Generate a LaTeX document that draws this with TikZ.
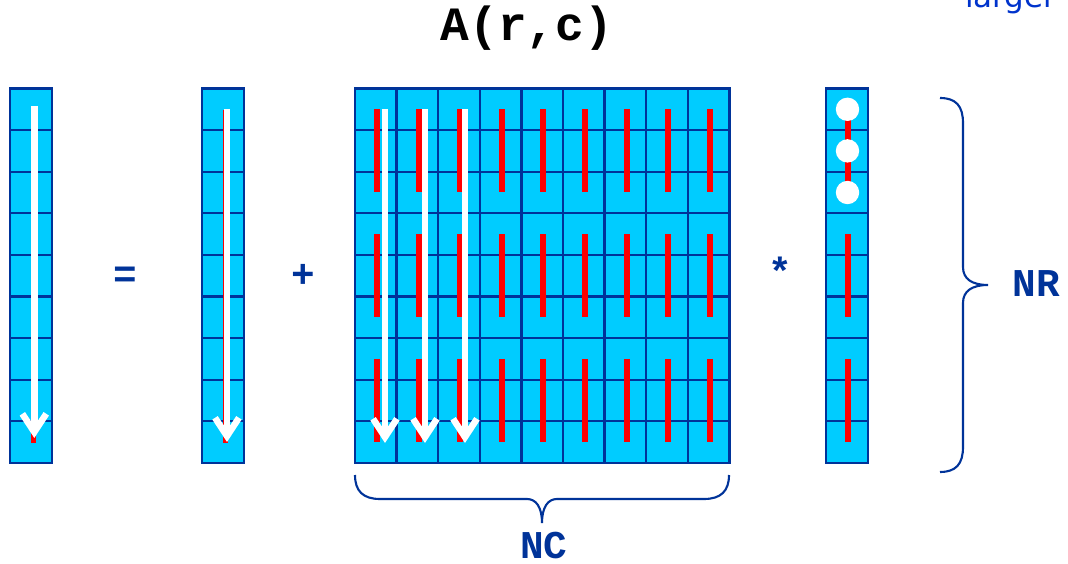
\documentclass[tikz,border=0pt]{standalone}
\usepackage{fontspec}
\setmonofont{Liberation Mono}
\newfontfamily\notefont{DejaVu Sans}
\usetikzlibrary{arrows.meta,calc}
\definecolor{cellblue}{RGB}{0,204,255}
\definecolor{gridblue}{RGB}{0,51,153}
\definecolor{noteblue}{RGB}{0,51,204}
\tikzset{every picture/.style={line width=0.75pt}}
\tikzset{
  cell/.style={fill=cellblue, draw=gridblue, line width=1.7pt},
  gridline/.style={gridblue, line width=1.7pt},
  redbar/.style={red, line width=4.2pt},
  sweep/.style={white, line width=4.6pt, -{Straight Barb[length=13pt, width=17pt]}},
  curly/.style={gridblue, line width=1.5pt},
  symb/.style={text=gridblue, inner sep=0pt, font=\ttfamily\bfseries\fontsize{28}{28}\selectfont},
}

\begin{document}
\begin{tikzpicture}[x=0.025cm, y=-0.025cm]
    \useasboundingbox (0,0) rectangle (1068,564);
    \clip (0,0) rectangle (1068,564);
    \def\rowh{41.6}
    \def\gridtop{88.5}
    \def\gridbot{462.9}

    % 标题
    \node[font=\ttfamily\bfseries\fontsize{34}{34}\selectfont] (title) at (527,28) {A(r,c)};
    \node[text=noteblue, font=\notefont\fontsize{22}{22}\selectfont, anchor=base west] (note) at (960,8) {larger};

    % 四个格子块
    \foreach \xa/\xb in {10/52, 202/244, 355/729.4, 826/868} {
        \draw[cell] (\xa,\gridtop) rectangle (\xb,\gridbot);
        \foreach \r in {1,...,8}
            \draw[gridline] (\xa,\gridtop+\r*\rowh) -- (\xb,\gridtop+\r*\rowh);
    }
    \foreach \c in {1,...,8}
        \draw[gridline] (355+\c*\rowh,\gridtop) -- (355+\c*\rowh,\gridbot);

    % 左边的列向量
    \draw[redbar] (33.5,110) -- (33.5,443);
    \draw[sweep] (34.3,106) -- (34.3,438);

    \node[symb] (eq) at (125.5,277) {=};

    % 第二个列向量
    \draw[redbar] (225.5,110) -- (225.5,443);
    \draw[sweep] (227,109) -- (227,442);

    \node[symb] (plus) at (303,276) {+};

    % 矩阵 A
    \foreach \c in {0,...,8}
        \foreach \g in {0,1,2}
            \draw[redbar] (377+\c*\rowh,\gridtop+3*\g*\rowh+0.5*\rowh) -- ++(0,2*\rowh);
    \foreach \x in {385,425,465}
        \draw[sweep] (\x,109) -- (\x,443);

    \node[symb] (times) at (780.5,271.5) {*};

    % 右边的列向量
    \draw[redbar] (847.7,\gridtop+0.5*\rowh) -- ++(0,2*\rowh);
    \foreach \g in {1,2}
        \draw[redbar] (847.7,\gridtop+3*\g*\rowh+0.5*\rowh) -- ++(0,2*\rowh);
    \foreach \r in {0,1,2}
        \fill[white] (847.5,\gridtop+\r*\rowh+0.5*\rowh) circle (11.7);

    % 括号 NR
    \draw[curly] (940,98) .. controls (956,98) and (963,106) .. (963,123)
        -- (963,267) .. controls (963,279) and (972,285) .. (988,285)
        .. controls (972,285) and (963,291) .. (963,303)
        -- (963,447) .. controls (963,464) and (956,472) .. (940,472);
    \node[symb] (nr) at (1036,283.5) {NR};

    % 括号 NC
    \draw[curly] (355,475) .. controls (355,491) and (363,499) .. (380,499)
        -- (527,499) .. controls (536,499) and (542,507) .. (542,523)
        .. controls (542,507) and (548,499) .. (557,499)
        -- (704,499) .. controls (721,499) and (729,491) .. (729,475);
    \node[symb] (nc) at (544,545.5) {NC};
\end{tikzpicture}
\end{document}
